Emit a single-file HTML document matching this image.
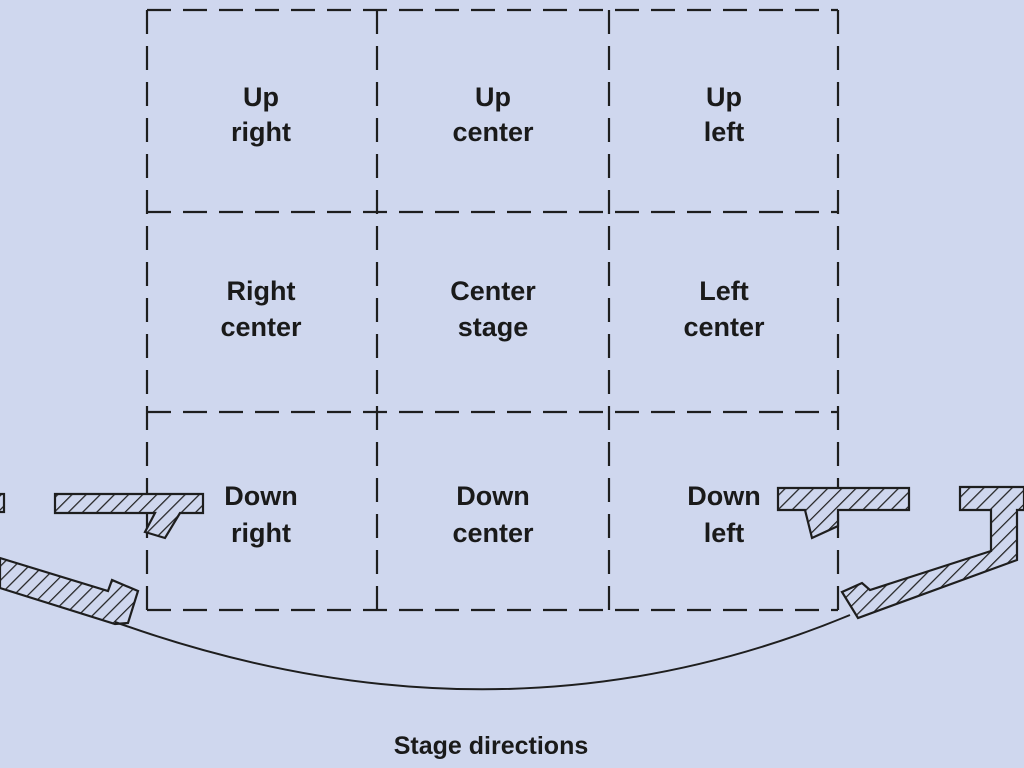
<!DOCTYPE html>
<html><head><style>
html,body{margin:0;padding:0;background:#cfd7ee;}
svg{display:block}
text{font-family:"Liberation Sans",Arial,sans-serif;fill:#1a1a1a;text-anchor:middle}
</style></head><body>
<svg width="1024" height="768" viewBox="0 0 1024 768">
<defs>
<pattern id="h" width="10" height="10" patternUnits="userSpaceOnUse" patternTransform="rotate(45)">
<rect width="10" height="10" fill="#cfd7ee"/>
<line x1="0" y1="0" x2="0" y2="10" stroke="#222" stroke-width="2.5"/>
</pattern>
</defs>
<rect width="1024" height="768" fill="#cfd7ee"/>
<g stroke="#1e1e1e" stroke-width="2.2" fill="none" stroke-dasharray="24,12">
<line x1="147" y1="10" x2="147" y2="610"/>
<line x1="377" y1="10" x2="377" y2="610"/>
<line x1="609" y1="10" x2="609" y2="610"/>
<line x1="838" y1="10" x2="838" y2="610"/>
<line x1="147" y1="10" x2="838" y2="10"/>
<line x1="147" y1="212" x2="838" y2="212"/>
<line x1="147" y1="412" x2="838" y2="412"/>
<line x1="147" y1="610" x2="838" y2="610"/>
</g>
<g font-size="27" font-weight="bold">
<text x="261" y="106">Up</text><text x="261" y="141">right</text>
<text x="493" y="106">Up</text><text x="493" y="141">center</text>
<text x="724" y="106">Up</text><text x="724" y="141">left</text>
<text x="261" y="300">Right</text><text x="261" y="336">center</text>
<text x="493" y="300">Center</text><text x="493" y="336">stage</text>
<text x="724" y="300">Left</text><text x="724" y="336">center</text>
<text x="261" y="505">Down</text><text x="261" y="542">right</text>
<text x="493" y="505">Down</text><text x="493" y="542">center</text>
<text x="724" y="505">Down</text><text x="724" y="542">left</text>
</g>
<g fill="url(#h)" stroke="#1e1e1e" stroke-width="2.2">
<polygon points="55,494 203,494 203,513 180,513 165,538 145,532 155,513 55,513"/>
<polygon points="0,558 108,591 112,580 138,591 128,623 115,624 0,588"/>
<polygon points="778,488 909,488 909,510 838,510 838,526 812,538 805,510 778,510"/>
<polygon points="960,487 1024,487 1024,510 1017,510 1017,560 858,618 842,592 862,583 870,590 991,551 991,510 960,510"/>
<rect x="-3" y="494" width="7" height="18"/>
</g>
<path d="M115,622 Q500,760 850,615" stroke="#1e1e1e" stroke-width="2" fill="none"/>
<text x="491" y="754" font-size="25" font-weight="bold">Stage directions</text>
</svg>
</body></html>
